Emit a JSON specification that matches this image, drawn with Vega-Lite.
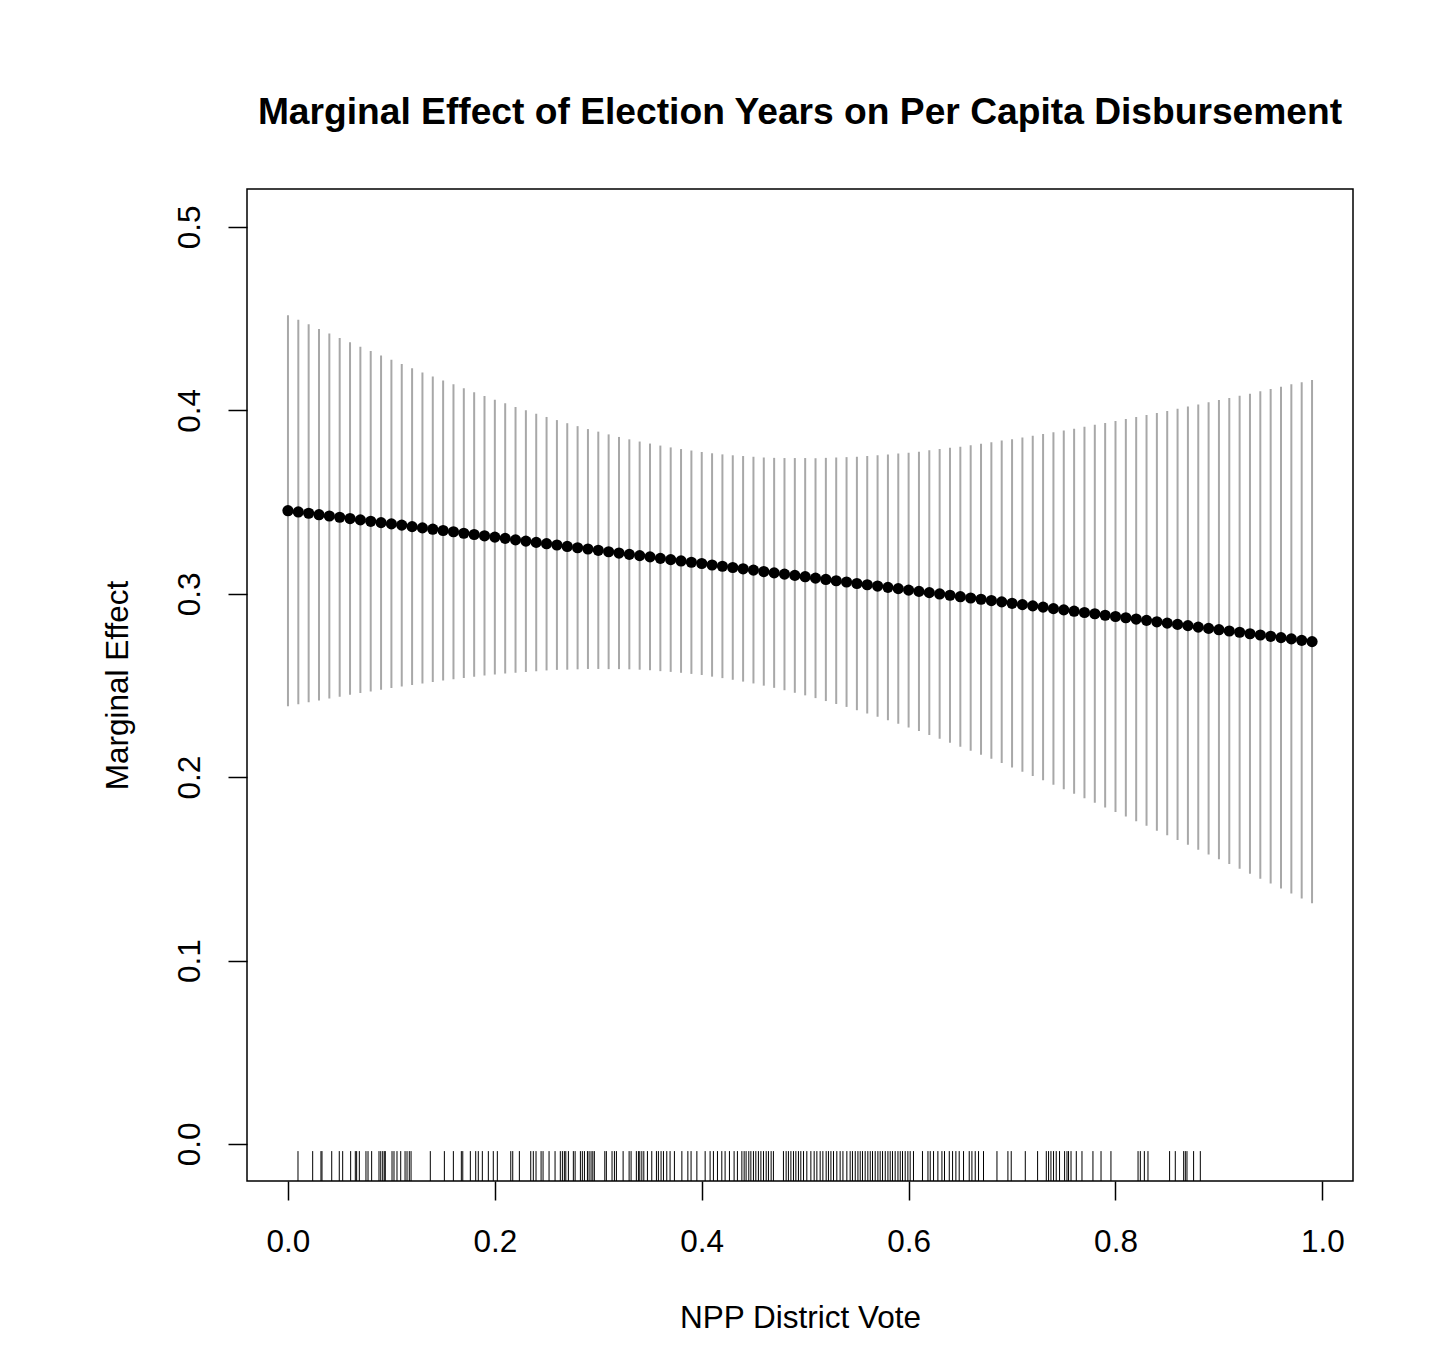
{
  "$schema": "https://vega.github.io/schema/vega-lite/v6.json",
  "autosize": "none",
  "width": 1106,
  "height": 992,
  "padding": {"left": 247, "top": 189, "right": 77, "bottom": 183},
  "background": "white",
  "config": {
    "font": "Liberation Sans",
    "view": {"stroke": "black", "strokeWidth": 1.5},
    "axis": {"grid": false, "domain": false, "tickColor": "black", "tickWidth": 1.5, "tickSize": 19, "labelColor": "black", "titleColor": "black", "labelFont": "Liberation Sans", "titleFont": "Liberation Sans", "labelFontSize": 31.5, "titleFontSize": 31.5, "titleFontWeight": "normal"}
  },
  "title": {"text": "Marginal Effect of Election Years on Per Capita Disbursement", "fontSize": 37.2, "fontWeight": "bold", "font": "Liberation Sans", "color": "black", "anchor": "middle", "baseline": "alphabetic", "offset": 28},
  "datasets": {
    "me": [
      {"x":0.00,"est":0.3453,"lo":0.2387,"hi":0.4519},
      {"x":0.01,"est":0.3446,"lo":0.2398,"hi":0.4494},
      {"x":0.02,"est":0.3439,"lo":0.2409,"hi":0.4469},
      {"x":0.03,"est":0.3431,"lo":0.2418,"hi":0.4444},
      {"x":0.04,"est":0.3424,"lo":0.2429,"hi":0.4419},
      {"x":0.05,"est":0.3417,"lo":0.2439,"hi":0.4395},
      {"x":0.06,"est":0.3410,"lo":0.2449,"hi":0.4371},
      {"x":0.07,"est":0.3403,"lo":0.2459,"hi":0.4347},
      {"x":0.08,"est":0.3395,"lo":0.2467,"hi":0.4323},
      {"x":0.09,"est":0.3388,"lo":0.2477,"hi":0.4299},
      {"x":0.10,"est":0.3381,"lo":0.2486,"hi":0.4276},
      {"x":0.11,"est":0.3374,"lo":0.2495,"hi":0.4253},
      {"x":0.12,"est":0.3366,"lo":0.2503,"hi":0.4229},
      {"x":0.13,"est":0.3359,"lo":0.2511,"hi":0.4207},
      {"x":0.14,"est":0.3352,"lo":0.2519,"hi":0.4185},
      {"x":0.15,"est":0.3345,"lo":0.2527,"hi":0.4163},
      {"x":0.16,"est":0.3338,"lo":0.2534,"hi":0.4142},
      {"x":0.17,"est":0.3330,"lo":0.2540,"hi":0.4120},
      {"x":0.18,"est":0.3323,"lo":0.2547,"hi":0.4099},
      {"x":0.19,"est":0.3316,"lo":0.2554,"hi":0.4078},
      {"x":0.20,"est":0.3309,"lo":0.2560,"hi":0.4058},
      {"x":0.21,"est":0.3302,"lo":0.2565,"hi":0.4039},
      {"x":0.22,"est":0.3294,"lo":0.2569,"hi":0.4019},
      {"x":0.23,"est":0.3287,"lo":0.2574,"hi":0.4000},
      {"x":0.24,"est":0.3280,"lo":0.2578,"hi":0.3982},
      {"x":0.25,"est":0.3273,"lo":0.2582,"hi":0.3964},
      {"x":0.26,"est":0.3266,"lo":0.2585,"hi":0.3947},
      {"x":0.27,"est":0.3258,"lo":0.2586,"hi":0.3930},
      {"x":0.28,"est":0.3251,"lo":0.2588,"hi":0.3914},
      {"x":0.29,"est":0.3244,"lo":0.2590,"hi":0.3898},
      {"x":0.30,"est":0.3237,"lo":0.2590,"hi":0.3884},
      {"x":0.31,"est":0.3229,"lo":0.2589,"hi":0.3869},
      {"x":0.32,"est":0.3222,"lo":0.2589,"hi":0.3855},
      {"x":0.33,"est":0.3215,"lo":0.2588,"hi":0.3842},
      {"x":0.34,"est":0.3208,"lo":0.2586,"hi":0.3830},
      {"x":0.35,"est":0.3201,"lo":0.2583,"hi":0.3819},
      {"x":0.36,"est":0.3193,"lo":0.2578,"hi":0.3808},
      {"x":0.37,"est":0.3186,"lo":0.2574,"hi":0.3798},
      {"x":0.38,"est":0.3179,"lo":0.2569,"hi":0.3789},
      {"x":0.39,"est":0.3172,"lo":0.2563,"hi":0.3781},
      {"x":0.40,"est":0.3165,"lo":0.2557,"hi":0.3773},
      {"x":0.41,"est":0.3157,"lo":0.2548,"hi":0.3766},
      {"x":0.42,"est":0.3150,"lo":0.2540,"hi":0.3760},
      {"x":0.43,"est":0.3143,"lo":0.2531,"hi":0.3755},
      {"x":0.44,"est":0.3136,"lo":0.2521,"hi":0.3751},
      {"x":0.45,"est":0.3129,"lo":0.2511,"hi":0.3747},
      {"x":0.46,"est":0.3121,"lo":0.2499,"hi":0.3743},
      {"x":0.47,"est":0.3114,"lo":0.2487,"hi":0.3741},
      {"x":0.48,"est":0.3107,"lo":0.2474,"hi":0.3740},
      {"x":0.49,"est":0.3100,"lo":0.2460,"hi":0.3740},
      {"x":0.50,"est":0.3093,"lo":0.2446,"hi":0.3740},
      {"x":0.51,"est":0.3085,"lo":0.2431,"hi":0.3739},
      {"x":0.52,"est":0.3078,"lo":0.2415,"hi":0.3741},
      {"x":0.53,"est":0.3071,"lo":0.2399,"hi":0.3743},
      {"x":0.54,"est":0.3064,"lo":0.2383,"hi":0.3745},
      {"x":0.55,"est":0.3056,"lo":0.2365,"hi":0.3747},
      {"x":0.56,"est":0.3049,"lo":0.2347,"hi":0.3751},
      {"x":0.57,"est":0.3042,"lo":0.2329,"hi":0.3755},
      {"x":0.58,"est":0.3035,"lo":0.2310,"hi":0.3760},
      {"x":0.59,"est":0.3028,"lo":0.2291,"hi":0.3765},
      {"x":0.60,"est":0.3020,"lo":0.2271,"hi":0.3769},
      {"x":0.61,"est":0.3013,"lo":0.2251,"hi":0.3775},
      {"x":0.62,"est":0.3006,"lo":0.2230,"hi":0.3782},
      {"x":0.63,"est":0.2999,"lo":0.2209,"hi":0.3789},
      {"x":0.64,"est":0.2992,"lo":0.2188,"hi":0.3796},
      {"x":0.65,"est":0.2984,"lo":0.2166,"hi":0.3802},
      {"x":0.66,"est":0.2977,"lo":0.2144,"hi":0.3810},
      {"x":0.67,"est":0.2970,"lo":0.2122,"hi":0.3818},
      {"x":0.68,"est":0.2963,"lo":0.2100,"hi":0.3826},
      {"x":0.69,"est":0.2956,"lo":0.2077,"hi":0.3835},
      {"x":0.70,"est":0.2948,"lo":0.2053,"hi":0.3843},
      {"x":0.71,"est":0.2941,"lo":0.2030,"hi":0.3852},
      {"x":0.72,"est":0.2934,"lo":0.2006,"hi":0.3862},
      {"x":0.73,"est":0.2927,"lo":0.1983,"hi":0.3871},
      {"x":0.74,"est":0.2919,"lo":0.1958,"hi":0.3880},
      {"x":0.75,"est":0.2912,"lo":0.1934,"hi":0.3890},
      {"x":0.76,"est":0.2905,"lo":0.1910,"hi":0.3900},
      {"x":0.77,"est":0.2898,"lo":0.1885,"hi":0.3911},
      {"x":0.78,"est":0.2891,"lo":0.1861,"hi":0.3921},
      {"x":0.79,"est":0.2883,"lo":0.1835,"hi":0.3931},
      {"x":0.80,"est":0.2876,"lo":0.1810,"hi":0.3942},
      {"x":0.81,"est":0.2869,"lo":0.1785,"hi":0.3953},
      {"x":0.82,"est":0.2862,"lo":0.1760,"hi":0.3964},
      {"x":0.83,"est":0.2855,"lo":0.1735,"hi":0.3975},
      {"x":0.84,"est":0.2847,"lo":0.1708,"hi":0.3986},
      {"x":0.85,"est":0.2840,"lo":0.1683,"hi":0.3997},
      {"x":0.86,"est":0.2833,"lo":0.1657,"hi":0.4009},
      {"x":0.87,"est":0.2826,"lo":0.1631,"hi":0.4021},
      {"x":0.88,"est":0.2818,"lo":0.1604,"hi":0.4032},
      {"x":0.89,"est":0.2811,"lo":0.1578,"hi":0.4044},
      {"x":0.90,"est":0.2804,"lo":0.1552,"hi":0.4056},
      {"x":0.91,"est":0.2797,"lo":0.1526,"hi":0.4068},
      {"x":0.92,"est":0.2790,"lo":0.1500,"hi":0.4080},
      {"x":0.93,"est":0.2782,"lo":0.1473,"hi":0.4091},
      {"x":0.94,"est":0.2775,"lo":0.1446,"hi":0.4104},
      {"x":0.95,"est":0.2768,"lo":0.1420,"hi":0.4116},
      {"x":0.96,"est":0.2761,"lo":0.1393,"hi":0.4129},
      {"x":0.97,"est":0.2754,"lo":0.1366,"hi":0.4142},
      {"x":0.98,"est":0.2746,"lo":0.1339,"hi":0.4153},
      {"x":0.99,"est":0.2739,"lo":0.1312,"hi":0.4166}
    ],
    "rug": [
      {"v":0.0097},{"v":0.0239},{"v":0.0319},{"v":0.0329},{"v":0.0423},{"v":0.0496},{"v":0.0529},{"v":0.0606},{"v":0.0651},{"v":0.0664},{"v":0.0690},{"v":0.0754},{"v":0.0774},{"v":0.0809},{"v":0.0880},{"v":0.0897},{"v":0.0916},{"v":0.0931},{"v":0.0941},{"v":0.1006},{"v":0.1025},{"v":0.1054},{"v":0.1090},{"v":0.1132},{"v":0.1151},{"v":0.1173},{"v":0.1190},{"v":0.1376},{"v":0.1512},{"v":0.1599},{"v":0.1676},{"v":0.1690},{"v":0.1763},
      {"v":0.1815},{"v":0.1840},{"v":0.1879},{"v":0.1937},{"v":0.1985},{"v":0.2024},{"v":0.2154},{"v":0.2173},{"v":0.2237},{"v":0.2347},{"v":0.2372},{"v":0.2398},{"v":0.2447},{"v":0.2466},{"v":0.2524},{"v":0.2582},{"v":0.2633},{"v":0.2653},{"v":0.2672},{"v":0.2686},{"v":0.2711},{"v":0.2759},{"v":0.2776},{"v":0.2827},{"v":0.2846},{"v":0.2866},{"v":0.2895},{"v":0.2911},{"v":0.2930},{"v":0.2947},{"v":0.2962},{"v":0.3063},{"v":0.3078},{"v":0.3133},{"v":0.3156},{"v":0.3175},{"v":0.3240},{"v":0.3298},{"v":0.3317},{"v":0.3368},{"v":0.3388},{"v":0.3401},{"v":0.3421},{"v":0.3440},{"v":0.3475},{"v":0.3517},{"v":0.3562},{"v":0.3581},
      {"v":0.3607},{"v":0.3630},{"v":0.3662},{"v":0.3694},{"v":0.3736},{"v":0.3808},{"v":0.3866},{"v":0.3897},{"v":0.3953},{"v":0.4033},{"v":0.4081},{"v":0.4113},{"v":0.4152},{"v":0.4194},{"v":0.4226},{"v":0.4268},{"v":0.4313},{"v":0.4345},{"v":0.4388},{"v":0.4410},{"v":0.4429},{"v":0.4455},{"v":0.4475},{"v":0.4500},{"v":0.4523},{"v":0.4548},{"v":0.4572},{"v":0.4597},{"v":0.4623},{"v":0.4645},{"v":0.4671},{"v":0.4693},{"v":0.4790},{"v":0.4816},{"v":0.4838},{"v":0.4862},{"v":0.4887},{"v":0.4910},{"v":0.4935},{"v":0.4958},{"v":0.4984},{"v":0.5016},{"v":0.5055},{"v":0.5087},{"v":0.5113},{"v":0.5145},{"v":0.5171},{"v":0.5203},{"v":0.5225},{"v":0.5249},{"v":0.5274},{"v":0.5306},{"v":0.5338},{"v":0.5365},
      {"v":0.5403},{"v":0.5435},{"v":0.5457},{"v":0.5484},{"v":0.5510},{"v":0.5532},{"v":0.5554},{"v":0.5580},{"v":0.5606},{"v":0.5629},{"v":0.5651},{"v":0.5677},{"v":0.5703},{"v":0.5725},{"v":0.5748},{"v":0.5774},{"v":0.5800},{"v":0.5822},{"v":0.5844},{"v":0.5870},{"v":0.5897},{"v":0.5919},{"v":0.5941},{"v":0.5967},{"v":0.5993},{"v":0.6015},{"v":0.6047},{"v":0.6134},{"v":0.6187},{"v":0.6209},{"v":0.6241},{"v":0.6283},{"v":0.6322},{"v":0.6347},{"v":0.6393},{"v":0.6425},{"v":0.6457},{"v":0.6489},{"v":0.6531},{"v":0.6586},{"v":0.6612},{"v":0.6644},{"v":0.6676},{"v":0.6724},{"v":0.6854},{"v":0.6960},{"v":0.6992},{"v":0.7128},
      {"v":0.7247},{"v":0.7331},{"v":0.7353},{"v":0.7376},{"v":0.7401},{"v":0.7427},{"v":0.7459},{"v":0.7508},{"v":0.7531},{"v":0.7546},{"v":0.7570},{"v":0.7621},{"v":0.7676},{"v":0.7782},{"v":0.7860},{"v":0.7956},{"v":0.8218},{"v":0.8240},{"v":0.8279},{"v":0.8314},{"v":0.8523},{"v":0.8578},{"v":0.8659},{"v":0.8675},{"v":0.8691},{"v":0.8755},{"v":0.8820}
    ]
  },
  "layer": [
    {
      "data": {"name": "me"},
      "mark": {"type": "rule", "color": "#a8a8a8", "strokeWidth": 2},
      "encoding": {
        "x": {"field": "x", "type": "quantitative", "scale": {"domain": [-0.0396, 1.0296], "nice": false, "zero": false},
              "axis": {"values": [0, 0.2, 0.4, 0.6, 0.8, 1.0], "format": ".1f", "title": "NPP District Vote", "labelPadding": 26, "titlePadding": 45}},
        "y": {"field": "lo", "type": "quantitative", "scale": {"domain": [-0.0202, 0.5207], "nice": false, "zero": false},
              "axis": {"values": [0, 0.1, 0.2, 0.3, 0.4, 0.5], "format": ".1f", "title": "Marginal Effect", "labelAngle": 270, "labelAlign": "center", "labelBaseline": "bottom", "labelPadding": 22, "titlePadding": 40}},
        "y2": {"field": "hi"}
      }
    },
    {
      "data": {"name": "me"},
      "mark": {"type": "point", "filled": true, "shape": "circle", "color": "black", "size": 125, "opacity": 1},
      "encoding": {
        "x": {"field": "x", "type": "quantitative"},
        "y": {"field": "est", "type": "quantitative"}
      }
    },
    {
      "data": {"name": "rug"},
      "mark": {"type": "rule", "color": "black", "strokeWidth": 1},
      "encoding": {
        "x": {"field": "v", "type": "quantitative"},
        "y": {"datum": -0.0202},
        "y2": {"datum": -0.0039}
      }
    }
  ]
}
